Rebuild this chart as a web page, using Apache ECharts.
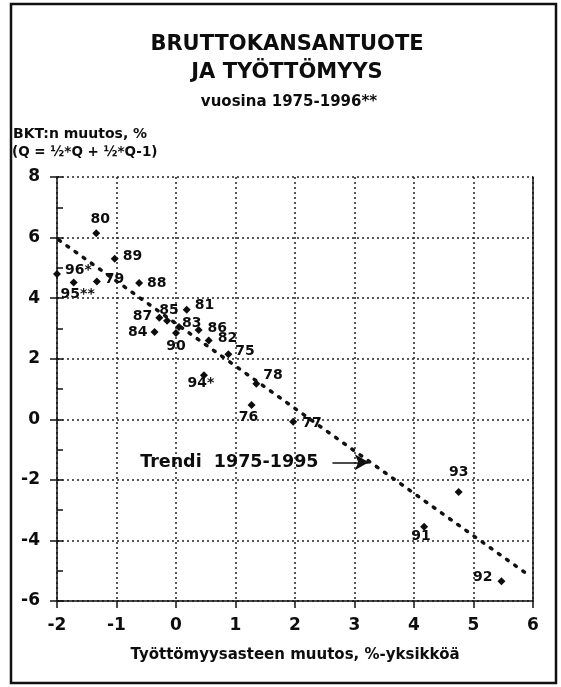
<!DOCTYPE html>
<html>
<head>
<meta charset="utf-8">
<script src="https://cdn.jsdelivr.net/npm/echarts@6/dist/echarts.min.js"></script>
<style>
  html, body { margin: 0; padding: 0; background: #fff; }
  #main { width: 561px; height: 687px; }
</style>
</head>
<body>
<div id="main"></div>
<script>
// vuodet ja pisteiden tunnukset
var yearLabels = ['75', '76', '77', '78', '79', '80', '81', '82', '83', '84', '85',
                  '86', '87', '88', '89', '90', '91', '92', '93', '94*', '95**', '96*'];
// työttömyysasteen muutos, %-yksikköä
var unemploymentChange = [0.88, 1.27, 1.97, 1.35, -1.33, -1.34, 0.18, 0.55, 0.05, -0.36, -0.15,
                          0.38, -0.28, -0.62, -1.03, 0.0, 4.17, 5.47, 4.75, 0.47, -1.72, -2.0];
// BKT:n muutos, %
var gdpChange = [2.15, 0.47, -0.08, 1.17, 4.55, 6.14, 3.62, 2.6, 3.05, 2.88, 3.25,
                 2.95, 3.35, 4.5, 5.3, 2.85, -3.55, -5.35, -2.4, 1.45, 4.52, 4.8];
// trendiviiva 1975-1995 (alku ja loppu)
var trendX = [-1.97, 5.88];
var trendY = [5.92, -5.08];
// akselit
var xMin = -2, xMax = 6;
var yMin = -6, yMax = 8;

// tunnusten paikat pisteen ympärillä
var labelPos = {
    '75': ['right', [0, -3]], '76': ['bottom', [-3, -2]], '77': ['right', [2, 2]],
    '78': ['right', [0, -8]], '79': ['right', [1, -2]], '80': ['top', [4, 0]],
    '81': ['right', [1, -4]], '82': ['right', [2, -2]], '83': ['right', [-4, -4]],
    '84': ['left', [0, 0]], '85': ['top', [2, 4]], '86': ['right', [2, -2]],
    '87': ['left', [0, -1]], '88': ['right', [1, 0]], '89': ['right', [1, -2]],
    '90': ['bottom', [0, -1]], '91': ['bottom', [-3, -4]], '92': ['left', [-2, -4]],
    '93': ['top', [0, -6]], '94*': ['bottom', [-3, -6]], '95**': ['bottom', [4, -2]],
    '96*': ['right', [1, -4]]
};

var font = "'DejaVu Sans', 'Liberation Sans', Arial, sans-serif";
var ink = '#0d0d0d';
function heavy(size) {
    return { fontFamily: font, fontWeight: 'bold', fontSize: size, color: ink };
}
function gText(x, y, text, size, align) {
    return { type: 'text', x: x, y: y,
             style: { text: text, fontFamily: font, fontWeight: 'bold', fontSize: size,
                      fill: ink, textAlign: align || 'center' } };
}

var points = yearLabels.map(function (y, i) {
    var p = labelPos[y];
    return {
        value: [unemploymentChange[i], gdpChange[i]],
        name: y,
        label: { position: p[0], offset: p[1] }
    };
});

var myChart = echarts.init(document.getElementById('main'));
myChart.setOption({
    backgroundColor: '#fff',
    animation: false,
    grid: { left: 57, right: 28, top: 177, bottom: 86 },
    graphic: [
        { type: 'rect', shape: { x: 11, y: 4, width: 545, height: 679 },
          style: { fill: 'none', stroke: '#111', lineWidth: 2.5 } },
        gText(287, 34, 'BRUTTOKANSANTUOTE', 21),
        gText(287, 62, 'JA TYÖTTÖMYYS', 21),
        gText(289, 95, 'vuosina 1975-1996**', 15),
        gText(13, 127, 'BKT:n muutos, %', 14, 'left'),
        gText(12, 145, '(Q = ½*Q + ½*Q-1)', 13.5, 'left')
    ],
    xAxis: {
        type: 'value',
        min: xMin, max: xMax, interval: 1,
        name: 'Työttömyysasteen muutos, %-yksikköä',
        nameLocation: 'middle',
        nameGap: 47,
        nameTextStyle: heavy(15),
        axisLine: { onZero: false, lineStyle: { color: '#111', width: 1.5 } },
        axisTick: { length: 7, lineStyle: { color: '#111', width: 1.5 } },
        axisLabel: Object.assign({ margin: 16 }, heavy(17)),
        splitLine: { lineStyle: { color: '#222', width: 1.5, type: [2, 3] } }
    },
    yAxis: [
        {
            type: 'value',
            min: yMin, max: yMax, interval: 2,
            axisLine: { onZero: false, lineStyle: { color: '#111', width: 1.5 } },
            axisTick: { length: 7, lineStyle: { color: '#111', width: 1.5 } },
            axisLabel: Object.assign({ margin: 17 }, heavy(17)),
            splitLine: { lineStyle: { color: '#222', width: 1.5, type: [2, 3] } }
        },
        {
            // pienet jakoviivat sisäpuolelle
            type: 'value', position: 'left',
            min: yMin, max: yMax, interval: 1,
            axisLine: { show: false, onZero: false },
            axisTick: { show: true, inside: true, length: 6, lineStyle: { color: '#111', width: 1.5 } },
            axisLabel: { show: false },
            splitLine: { show: false }
        },
        {
            type: 'value', position: 'right',
            min: yMin, max: yMax,
            axisLine: { show: true, onZero: false, lineStyle: { color: '#111', width: 1.5 } },
            axisTick: { show: false },
            axisLabel: { show: false },
            splitLine: { show: false }
        }
    ],
    series: [
        {
            name: 'Trendi',
            type: 'line',
            data: [[trendX[0], trendY[0]], [trendX[1], trendY[1]]],
            symbol: 'none',
            lineStyle: { color: '#111', width: 3.5, type: [2, 8], cap: 'round' },
            markLine: {
                silent: true,
                symbol: ['none', 'arrow'],
                symbolSize: [12, 14],
                lineStyle: { color: '#111', width: 1.5, type: 'solid' },
                label: Object.assign({
                    show: true, position: 'start', distance: 14,
                    formatter: 'Trendi  1975-1995'
                }, heavy(17.5)),
                data: [[{ coord: [2.63, -1.42] }, { coord: [3.24, -1.42] }]]
            }
        },
        {
            name: 'Vuodet',
            type: 'scatter',
            data: points,
            symbol: 'diamond',
            symbolSize: 8,
            itemStyle: { color: ink, opacity: 1 },
            label: Object.assign({
                show: true,
                formatter: '{b}',
                distance: 3
            }, heavy(14))
        }
    ]
});
</script>
</body>
</html>
